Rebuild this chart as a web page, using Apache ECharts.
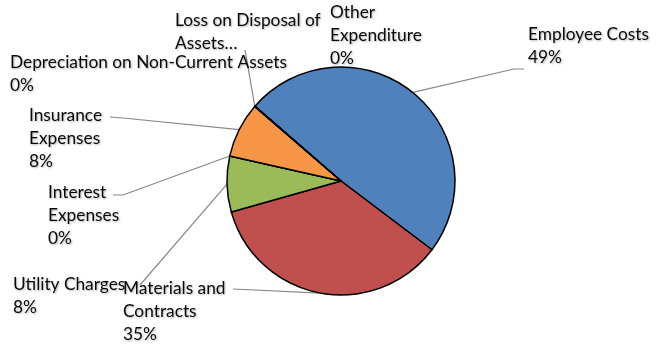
<!DOCTYPE html>
<html>
<head>
<meta charset="utf-8">
<script src="https://cdn.jsdelivr.net/npm/echarts@6/dist/echarts.min.js"></script>
<style>html,body{margin:0;padding:0;background:#fff}#c{width:667px;height:349px}</style>
</head>
<body>
<div id="c"></div>
<script>
// ---- data ----
const categories = ['Employee Costs', 'Materials and Contracts', 'Utility Charges', 'Interest Expenses',
  'Insurance Expenses', 'Depreciation on Non-Current Assets', 'Loss on Disposal of Assets', 'Other Expenditure'];
const values = [48.9, 35.3, 7.9, 0.02, 7.8, 0.02, 0.02, 0.02];
const labelTexts = ['Employee Costs\n{p}', 'Materials and\nContracts\n{p}', 'Utility Charges\n{p}', 'Interest\nExpenses\n{p}',
  'Insurance\nExpenses\n{p}', 'Depreciation on Non-Current Assets\n{p}', 'Loss on Disposal of\nAssets…', 'Other\nExpenditure\n{p}'];
const colors = ['#4F81BD', '#C0504D', '#9BBB59', '#8064A2', '#F79646', '#4BACC6', '#2C4D75', '#772C2A'];

// ---- label layout (top-left of text block, leader line bends) ----
const labelPos = [
  {x: 528, y: 23, line: [[514, 69], [524, 69]]},
  {x: 123, y: 277, line: [[233, 289], [233, 289]]},
  {x: 13, y: 273, line: [[140, 285], [140, 285]]},
  {x: 48, y: 181, line: [[123, 195], [113, 195]]},
  {x: 29, y: 104, line: [[123, 118], [110, 117]]},
  {x: 10, y: 51, line: null},
  {x: 175, y: 9, line: [[245, 50], [245, 50]]},
  {x: 330, y: 1, line: null}
];

const chart = echarts.init(document.getElementById('c'), null, {renderer: 'canvas'});
chart.setOption({
  animation: false,
  series: [{
    type: 'pie',
    center: [341, 181],
    radius: 114,
    startAngle: 139,
    clockwise: true,
    avoidLabelOverlap: false,
    itemStyle: {borderColor: '#000', borderWidth: 1.5},
    label: {
      show: true,
      position: 'outside',
      fontFamily: 'Lato',
      fontSize: 17.3,
      lineHeight: 23,
      color: '#0a0a0a',
      textShadowColor: 'rgba(0,0,0,0.3)',
      textShadowBlur: 2,
      textShadowOffsetX: 1,
      textShadowOffsetY: 1,
      formatter: p => labelTexts[p.dataIndex].replace('{p}', Math.round(p.percent) + '%')
    },
    labelLine: {show: true, lineStyle: {color: '#888', width: 1.2}, length: 10, length2: 10},
    labelLayout: function (params) {
      const lp = labelPos[params.dataIndex];
      const res = {x: lp.x, y: lp.y, align: 'left', verticalAlign: 'top'};
      if (lp.line && params.labelLinePoints) {
        const p0 = params.labelLinePoints[0];
        res.labelLinePoints = [p0, lp.line[0], lp.line[1]];
      } else {
        res.labelLinePoints = [[0, 0], [0, 0], [0, 0]];
      }
      return res;
    },
    data: categories.map((n, i) => ({name: n, value: values[i], itemStyle: {color: colors[i]}}))
  }]
});
</script>
</body>
</html>
